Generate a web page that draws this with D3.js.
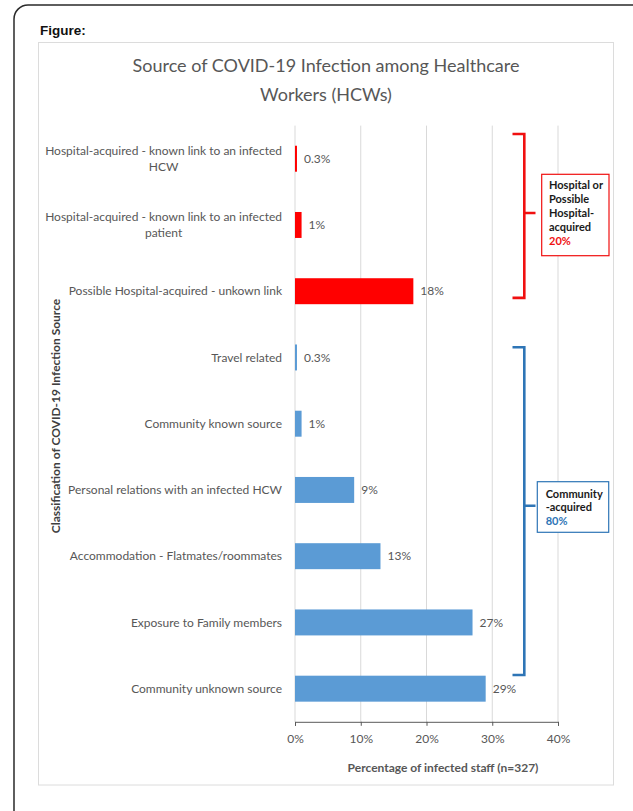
<!DOCTYPE html>
<html>
<head>
<meta charset="utf-8">
<script src="https://cdn.jsdelivr.net/npm/d3@7"></script>
<style>
  body { margin: 0; background: #fff; }
  svg { display: block; }
</style>
</head>
<body>
<svg id="chart" width="633" height="811"></svg>
<script>
// Infection source categories, top to bottom ("\n" marks a wrapped label line)
const categories = [
  "Hospital-acquired - known link to an infected\nHCW",
  "Hospital-acquired - known link to an infected\npatient",
  "Possible Hospital-acquired - unkown link",
  "Travel related",
  "Community known source",
  "Personal relations with an infected HCW",
  "Accommodation - Flatmates/roommates",
  "Exposure to Family members",
  "Community unknown source"
];
// Percentage of infected staff per source
const values = [0.3, 1, 18, 0.3, 1, 9, 13, 27, 29];
// Group each source belongs to
const groupOf = ["hospital", "hospital", "hospital",
                 "community", "community", "community", "community", "community", "community"];
// Axis ticks (percent)
const xTicks = [0, 10, 20, 30, 40];
// Group summary boxes
const groupKeys = ["hospital", "community"];
const groupLabels = [["Hospital or", "Possible", "Hospital-", "acquired"], ["Community", "-acquired"]];
const groupTotals = [20, 80];

const colors = { hospital: "#FF0000", community: "#5B9BD5" };
const bracketColors = { hospital: "#F01010", community: "#2E75B6" };

const FONT = "Lato, 'Open Sans', sans-serif";
const TEXT = "#575757";
const svg = d3.select("#chart");

// Outer rounded frame and inner chart area
svg.append("rect")
  .attr("x", 14).attr("y", 5).attr("width", 640).attr("height", 830)
  .attr("rx", 14).attr("fill", "#fff").attr("stroke", "#2a2a2a").attr("stroke-width", 1.5);
svg.append("text")
  .attr("x", 40).attr("y", 35)
  .attr("font-family", "'Liberation Sans', Arial, sans-serif")
  .attr("font-weight", "bold").attr("font-size", 13.5).attr("fill", "#111")
  .text("Figure:");
svg.append("rect")
  .attr("x", 38.5).attr("y", 42.5).attr("width", 575).attr("height", 742.5)
  .attr("fill", "#fff").attr("stroke", "#dcdcdc").attr("stroke-width", 1);

// Title
const title = svg.append("text")
  .attr("text-anchor", "middle").attr("font-family", FONT)
  .attr("font-size", 18).attr("fill", TEXT);
title.append("tspan").attr("x", 326).attr("y", 72).text("Source of COVID-19 Infection among Healthcare");
title.append("tspan").attr("x", 326).attr("y", 101).text("Workers (HCWs)");

// Scales
const x = d3.scaleLinear().domain([0, 40]).range([295, 558]);
const y = d3.scaleBand().domain(categories).range([125.6, 721.8])
  .paddingInner(0.608).paddingOuter(0.304);
const yTop = y.range()[0], yBottom = y.range()[1];

// Vertical gridlines
svg.append("g").selectAll("line").data(xTicks).join("line")
  .attr("x1", d => x(d)).attr("x2", d => x(d))
  .attr("y1", yTop).attr("y2", yBottom)
  .attr("stroke", "#d9d9d9").attr("stroke-width", 1);

// Bars
svg.append("g").selectAll("rect").data(categories).join("rect")
  .attr("x", x(0))
  .attr("y", d => y(d))
  .attr("width", (d, i) => x(values[i]) - x(0))
  .attr("height", y.bandwidth())
  .attr("fill", (d, i) => colors[groupOf[i]]);

// Value labels
svg.append("g").selectAll("text").data(categories).join("text")
  .attr("x", (d, i) => x(values[i]) + 7)
  .attr("y", d => y(d) + y.bandwidth() / 2)
  .attr("dy", "0.35em")
  .attr("font-family", FONT).attr("font-size", 12).attr("fill", TEXT)
  .text((d, i) => values[i] + "%");

// Category labels (multi-line labels are centred as a block, block right-aligned)
const catG = svg.append("g");
const labelRight = 282;
categories.forEach(cat => {
  const lines = cat.split("\n");
  const lh = 16;
  const cy = y(cat) + y.bandwidth() / 2;
  const t = catG.append("text")
    .attr("font-family", FONT).attr("font-size", 12).attr("fill", TEXT);
  const spans = lines.map((ln, k) =>
    t.append("tspan").attr("x", 0)
      .attr("y", cy + (k - (lines.length - 1) / 2) * lh).attr("dy", "0.35em").text(ln));
  if (lines.length === 1) {
    t.attr("text-anchor", "end");
    spans.forEach(s => s.attr("x", labelRight));
  } else {
    const w = d3.max(spans, s => s.node().getComputedTextLength());
    t.attr("text-anchor", "middle");
    spans.forEach(s => s.attr("x", labelRight - w / 2));
  }
});

// X axis
const axisY = yBottom;
const xAxis = svg.append("g").attr("transform", `translate(0,${axisY})`)
  .call(d3.axisBottom(x).tickValues(xTicks).tickFormat(d => d + "%").tickSize(4).tickPadding(9));
xAxis.select(".domain").attr("stroke", "#595959");
xAxis.selectAll(".tick line").attr("stroke", "#595959");
xAxis.selectAll("text").attr("font-family", FONT).attr("font-size", 12).attr("fill", TEXT);

// Axis titles
svg.append("text")
  .attr("x", 443).attr("y", 772).attr("text-anchor", "middle")
  .attr("font-family", FONT).attr("font-weight", "bold").attr("font-size", 12).attr("fill", TEXT)
  .text("Percentage of infected staff (n=327)");
svg.append("text")
  .attr("transform", "translate(60,416) rotate(-90)").attr("text-anchor", "middle")
  .attr("font-family", FONT).attr("font-weight", "bold").attr("font-size", 12).attr("fill", "#404040")
  .text("Classification of COVID-19 Infection Source");

// Group brackets and summary boxes
const bracketSpec = {
  hospital: { top: -11.7, bottom: -6.3, tickY: 213, box: [541.7, 174.3, 67.3, 81.4], textX: 549, lineY: 188.5, lh: 14 },
  community: { top: 2.8, bottom: -0.7, tickY: 505.7, box: [537.3, 481.7, 71.4, 50.6], textX: 545.7, lineY: 497.5, lh: 13.8 }
};
groupKeys.forEach((g, gi) => {
  const idx = categories.filter((c, i) => groupOf[i] === g);
  const spec = bracketSpec[g];
  const top = y(idx[0]) + spec.top;
  const bottom = y(idx[idx.length - 1]) + (g === "hospital" ? y.bandwidth() : 0) + spec.bottom;
  const bx = 524.3, left = 512.5, right = 535.5;
  const col = bracketColors[g];
  svg.append("path")
    .attr("d", `M${left},${top}H${bx}V${bottom}H${left}M${bx},${spec.tickY}H${right}`)
    .attr("fill", "none").attr("stroke", col).attr("stroke-width", 2.6);
  const [rx, ry, rw, rh] = spec.box;
  svg.append("rect").attr("x", rx).attr("y", ry).attr("width", rw).attr("height", rh)
    .attr("fill", "#fff").attr("stroke", col).attr("stroke-width", 1.2);
  const t = svg.append("text").attr("font-family", FONT).attr("font-weight", "bold").attr("font-size", 11);
  groupLabels[gi].forEach((ln, k) => {
    t.append("tspan").attr("x", spec.textX).attr("y", spec.lineY + k * spec.lh).attr("fill", "#1a1a1a").text(ln);
  });
  t.append("tspan").attr("x", spec.textX).attr("y", spec.lineY + groupLabels[gi].length * spec.lh)
    .attr("fill", col).text(groupTotals[gi] + "%");
});
</script>
</body>
</html>
